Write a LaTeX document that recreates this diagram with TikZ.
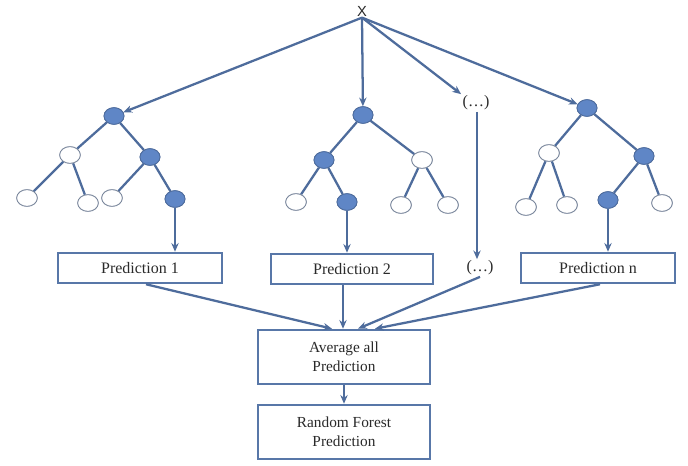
\documentclass[tikz,border=0pt]{standalone}
\usepackage{fontspec}
\setmainfont{Liberation Serif}
\newfontfamily\xsans{Liberation Sans}
\usetikzlibrary{shapes.geometric,arrows.meta,calc}
\definecolor{lineblue}{HTML}{4E6C9C}
\definecolor{fillblue}{HTML}{5F86C6}
\definecolor{boxblue}{HTML}{5877A8}
\definecolor{wnode}{HTML}{7A879C}
\definecolor{txt}{HTML}{2A2A2A}
\begin{document}
\begin{tikzpicture}[x=0.75pt,y=-0.75pt,
  fnode/.style={ellipse,draw=lineblue,fill=fillblue,line width=0.6pt,minimum width=15pt,minimum height=12.5pt,inner sep=0pt},
  wnodes/.style={ellipse,draw=wnode,fill=white,line width=0.6pt,minimum width=15.5pt,minimum height=12.5pt,inner sep=0pt},
  edge/.style={draw=lineblue,line width=1.7pt},
  arr/.style={draw=lineblue,line width=1.7pt,-{Stealth[length=6.5pt,width=5.5pt]}},
  pbox/.style={draw=boxblue,line width=1.4pt,fill=white,minimum height=23pt,inner sep=0pt,font=\fontsize{12}{13}\selectfont,text=txt},
  bigbox/.style={draw=boxblue,line width=1.4pt,fill=white,minimum width=129pt,minimum height=41pt,inner sep=0pt,align=center,font=\fontsize{11.5}{14}\selectfont,text=txt},
  dots/.style={font=\fontsize{12}{13}\selectfont,text=txt,inner sep=1pt}]
\useasboundingbox (0,0) rectangle (688,466);
\fill[white] (0,0) rectangle (688,466);
% root label
\node[font=\xsans\fontsize{11}{11}\selectfont,text=txt,inner sep=1pt] (X) at (362,11) {X};
% tree 1
\node[fnode] (t1r) at (114,116) {};
\node[wnodes] (t1a) at (70,155) {};
\node[fnode] (t1b) at (150,157) {};
\node[wnodes] (t1c) at (27,198) {};
\node[wnodes] (t1d) at (88,203) {};
\node[wnodes] (t1e) at (112,198) {};
\node[fnode] (t1f) at (175,199) {};
% tree 2
\node[fnode] (t2r) at (363,115) {};
\node[fnode] (t2a) at (324,160) {};
\node[wnodes] (t2b) at (422,160) {};
\node[wnodes] (t2c) at (296,202) {};
\node[fnode] (t2d) at (347,202) {};
\node[wnodes] (t2e) at (401,205) {};
\node[wnodes] (t2f) at (448,205) {};
% tree n
\node[fnode] (t3r) at (587,108) {};
\node[wnodes] (t3a) at (549,153) {};
\node[fnode] (t3b) at (644,156) {};
\node[wnodes] (t3c) at (526,207) {};
\node[wnodes] (t3d) at (567,205) {};
\node[fnode] (t3e) at (608,200) {};
\node[wnodes] (t3f) at (662,203) {};
% dots
\node[dots] (dtop) at (476,103) {(…)};
% tree edges
\foreach \t in {t1,t2,t3}{
  \draw[edge] (\t r) -- (\t a);
  \draw[edge] (\t r) -- (\t b);
  \draw[edge] (\t a) -- (\t c);
  \draw[edge] (\t a) -- (\t d);
  \draw[edge] (\t b) -- (\t e);
  \draw[edge] (\t b) -- (\t f);
}
% redraw nodes above edges
\node[fnode] at (t1r) {};\node[wnodes] at (t1a) {};\node[fnode] at (t1b) {};
\node[wnodes] at (t1c) {};\node[wnodes] at (t1d) {};\node[wnodes] at (t1e) {};\node[fnode] at (t1f) {};
\node[fnode] at (t2r) {};\node[fnode] at (t2a) {};\node[wnodes] at (t2b) {};
\node[wnodes] at (t2c) {};\node[fnode] at (t2d) {};\node[wnodes] at (t2e) {};\node[wnodes] at (t2f) {};
\node[fnode] at (t3r) {};\node[wnodes] at (t3a) {};\node[fnode] at (t3b) {};
\node[wnodes] at (t3c) {};\node[wnodes] at (t3d) {};\node[fnode] at (t3e) {};\node[wnodes] at (t3f) {};
% boxes
\node[pbox,minimum width=123pt] (p1) at (140,268) {Prediction 1};
\node[pbox,minimum width=121pt] (p2) at (352,269) {Prediction 2};
\node[dots] (dbot) at (480,268) {(…)};
\node[pbox,minimum width=116pt] (pn) at (598,268) {Prediction n};
\node[bigbox] (avg) at (344,357) {Average all\\Prediction};
\node[bigbox] (rf) at (344,432) {Random Forest\\Prediction};
% arrows from X
\draw[arr] (X.south) -- (t1r);
\draw[arr] (X.south) -- (t2r);
\draw[arr] (X.south) -- (dtop.north west);
\draw[arr] (X.south) -- (t3r);
% leaf to prediction
\draw[arr] (t1f) -- (t1f |- p1.north);
\draw[arr] (t2d) -- (t2d |- p2.north);
\draw[arr] (dtop.south) ++(1,0) coordinate (dsrc) -- (dsrc |- dbot.north);
\draw[arr] (t3e) -- (t3e |- pn.north);
% predictions to average
\coordinate (a1) at ($(avg.north)+(-12,0)$);
\coordinate (a2) at ($(avg.north)+(-1,0)$);
\coordinate (a3) at ($(avg.north)+(14,0)$);
\coordinate (a4) at ($(avg.north)+(31,0)$);
\draw[arr] ($(p1.south)+(6,0)$) -- (a1);
\draw[arr] (p2.south -| a2) -- (a2);
\draw[arr] (dbot.south) -- (a3);
\draw[arr] ($(pn.south)+(2,0)$) -- (a4);
\draw[arr] (avg) -- (rf);
\end{tikzpicture}
\end{document}
